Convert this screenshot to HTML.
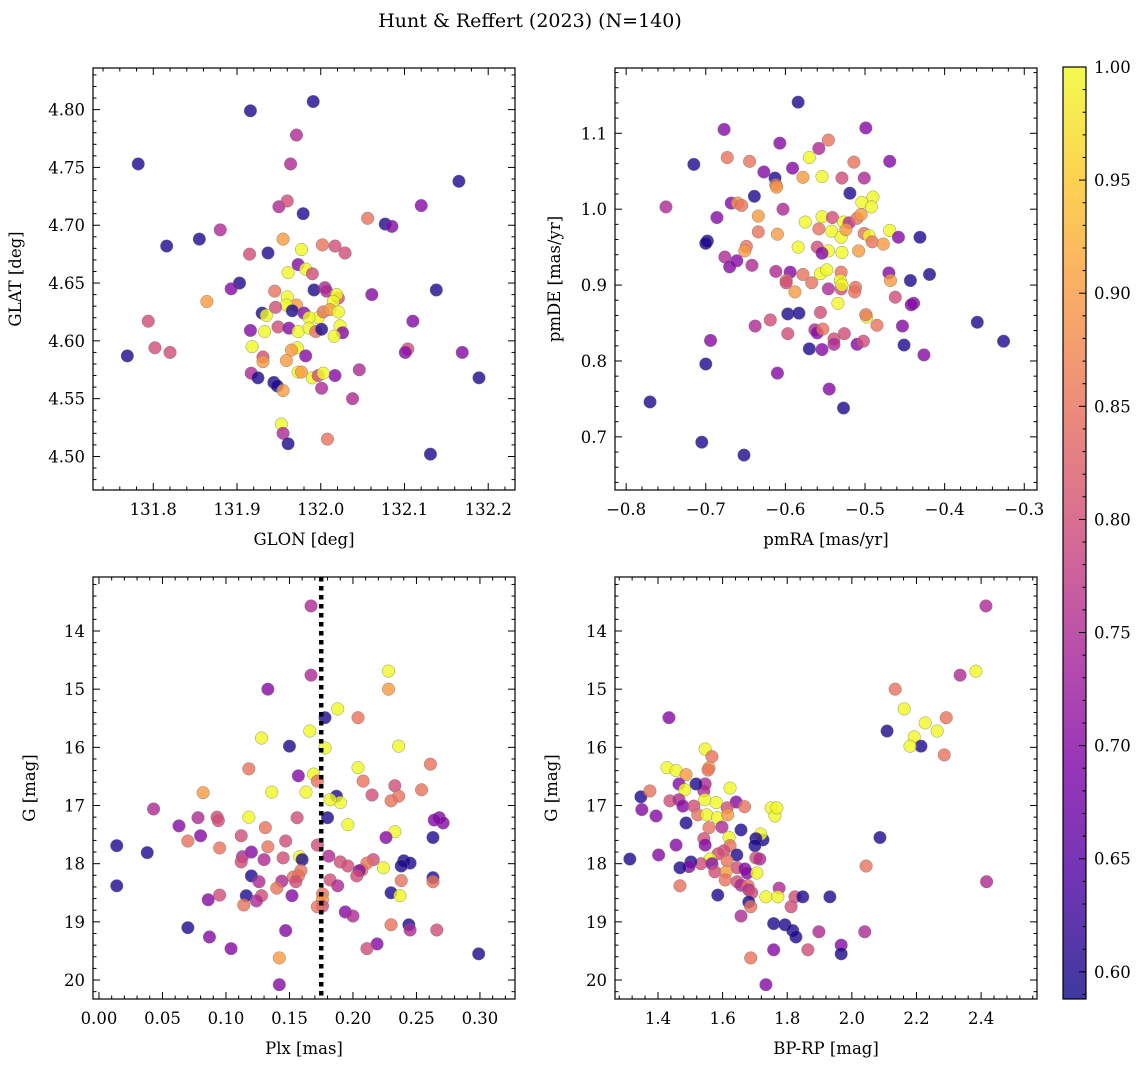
<!DOCTYPE html>
<html><head><meta charset="utf-8">
<style>
body{margin:0;background:#fff;}
svg{display:block;font-family:"DejaVu Serif","Liberation Serif",serif;}
</style></head>
<body>
<svg id="fig" width="1148" height="1067" viewBox="0 0 1148 1067" xmlns="http://www.w3.org/2000/svg">
<defs>
<linearGradient id="plasma" x1="0" y1="1" x2="0" y2="0">
<stop offset="0" stop-color="#0d0887"/><stop offset="0.125" stop-color="#4c02a1"/><stop offset="0.25" stop-color="#7e03a8"/><stop offset="0.375" stop-color="#a82296"/><stop offset="0.5" stop-color="#cc4778"/><stop offset="0.625" stop-color="#e66c5c"/><stop offset="0.75" stop-color="#f89540"/><stop offset="0.875" stop-color="#fdc527"/><stop offset="1" stop-color="#f0f921"/>
</linearGradient>
</defs>
<text x="530" y="27" font-size="19" text-anchor="middle">Hunt &amp; Reffert (2023) (N=140)</text>
</svg>
<script>
// ---- Panel 1: GLON vs GLAT ----
const glon=[131.782,131.916,131.991,131.971,131.964,132.165,132.120,131.979,131.950,131.960,131.880,131.816,131.855,132.056,132.077,132.085,131.915,131.937,131.955,132.002,132.017,132.029,131.977,131.973,131.982,131.990,131.961,131.864,131.903,131.893,132.138,132.061,131.992,131.960,131.971,132.005,132.007,132.021,132.019,132.015,131.945,131.959,131.930,131.935,131.946,131.966,131.980,131.997,131.986,132.003,132.011,132.021,132.023,132.026,132.110,131.916,131.933,131.949,131.962,131.973,131.986,131.994,132.001,132.016,131.769,131.794,131.802,131.820,131.918,131.972,131.965,132.104,132.101,132.169,131.931,131.931,131.982,131.959,131.917,131.925,131.973,131.977,131.990,132.017,132.046,131.997,132.003,132.189,131.944,131.948,131.955,132.001,132.038,131.953,131.955,131.961,132.008,132.131];
const glat=[4.753,4.799,4.807,4.778,4.753,4.738,4.717,4.710,4.716,4.721,4.696,4.682,4.688,4.706,4.701,4.699,4.675,4.676,4.688,4.683,4.682,4.676,4.679,4.666,4.662,4.658,4.659,4.634,4.650,4.645,4.644,4.640,4.644,4.638,4.631,4.646,4.643,4.637,4.640,4.634,4.643,4.631,4.624,4.622,4.629,4.626,4.624,4.620,4.620,4.625,4.627,4.625,4.613,4.607,4.617,4.609,4.608,4.612,4.611,4.608,4.611,4.608,4.610,4.604,4.587,4.617,4.594,4.590,4.595,4.594,4.592,4.593,4.590,4.590,4.586,4.582,4.587,4.583,4.572,4.568,4.573,4.573,4.568,4.570,4.575,4.570,4.572,4.568,4.564,4.561,4.557,4.559,4.550,4.528,4.520,4.511,4.515,4.502];
const prob1=[0.6,0.6,0.6,0.75,0.75,0.6,0.7,0.6,0.75,0.8,0.75,0.6,0.6,0.85,0.6,0.7,0.8,0.6,0.9,0.85,0.8,0.8,1.0,0.7,1.0,0.8,1.0,0.9,0.6,0.7,0.6,0.7,0.6,1.0,0.9,0.75,0.75,0.8,1.0,1.0,0.85,1.0,0.6,1.0,0.8,0.6,0.7,1.0,1.0,0.85,0.9,1.0,1.0,0.7,0.7,0.7,1.0,0.8,0.7,1.0,1.0,0.85,0.6,1.0,0.6,0.8,0.8,0.8,1.0,1.0,0.9,0.8,0.7,0.7,0.8,0.9,0.7,0.9,0.75,0.6,1.0,0.9,1.0,0.7,0.75,0.8,1.0,0.6,0.6,0.6,0.9,0.75,0.75,1.0,0.75,0.6,0.85,0.6];
const ticks1x=["131.8","131.9","132.0","132.1","132.2"];
const ticks1y=["4.50","4.55","4.60","4.65","4.70","4.75","4.80"];

// ---- Panel 2: pmRA vs pmDE ----
const pmra=[-0.584,-0.677,-0.499,-0.715,-0.607,-0.546,-0.558,-0.570,-0.673,-0.645,-0.469,-0.514,-0.627,-0.613,-0.591,-0.554,-0.578,-0.750,-0.668,-0.660,-0.655,-0.612,-0.639,-0.501,-0.611,-0.529,-0.519,-0.490,-0.504,-0.686,-0.634,-0.603,-0.554,-0.541,-0.527,-0.520,-0.510,-0.505,-0.492,-0.575,-0.698,-0.700,-0.634,-0.610,-0.558,-0.542,-0.530,-0.524,-0.501,-0.495,-0.491,-0.469,-0.458,-0.431,-0.649,-0.651,-0.584,-0.560,-0.546,-0.554,-0.529,-0.508,-0.477,-0.676,-0.661,-0.642,-0.670,-0.612,-0.594,-0.578,-0.556,-0.548,-0.530,-0.470,-0.419,-0.599,-0.599,-0.567,-0.531,-0.468,-0.443,-0.588,-0.546,-0.530,-0.529,-0.512,-0.513,-0.462,-0.439,-0.442,-0.534,-0.498,-0.499,-0.597,-0.583,-0.556,-0.485,-0.453,-0.359,-0.619,-0.638,-0.563,-0.560,-0.553,-0.526,-0.597,-0.694,-0.539,-0.539,-0.510,-0.451,-0.502,-0.326,-0.554,-0.570,-0.426,-0.700,-0.610,-0.545,-0.770,-0.527,-0.705,-0.652];
const pmde=[1.141,1.105,1.107,1.059,1.087,1.091,1.080,1.068,1.068,1.063,1.063,1.062,1.049,1.041,1.054,1.043,1.042,1.003,1.008,1.008,1.005,1.032,1.017,1.041,1.029,1.041,1.021,1.016,1.009,0.989,0.991,1.000,0.990,0.989,0.983,0.982,0.988,0.993,1.003,0.983,0.958,0.955,0.970,0.967,0.974,0.971,0.963,0.973,0.968,0.965,0.957,0.972,0.963,0.963,0.951,0.945,0.950,0.950,0.945,0.942,0.943,0.945,0.954,0.937,0.932,0.926,0.924,0.918,0.917,0.914,0.915,0.920,0.917,0.916,0.914,0.906,0.903,0.903,0.906,0.906,0.906,0.891,0.895,0.895,0.900,0.897,0.891,0.884,0.876,0.874,0.876,0.858,0.861,0.862,0.863,0.864,0.847,0.846,0.851,0.854,0.846,0.841,0.837,0.842,0.836,0.836,0.827,0.829,0.822,0.822,0.821,0.826,0.826,0.815,0.816,0.808,0.796,0.784,0.763,0.746,0.738,0.693,0.676];
const prob2=[0.6,0.7,0.7,0.6,0.7,0.85,0.75,1.0,0.85,0.85,0.7,0.85,0.7,0.6,0.7,1.0,0.9,0.75,0.7,0.9,0.85,0.85,0.6,0.75,0.9,0.8,0.6,1.0,1.0,0.7,0.9,0.75,1.0,0.8,1.0,0.75,0.85,0.9,1.0,1.0,0.6,0.6,0.85,0.9,0.85,1.0,1.0,0.9,0.85,1.0,0.85,1.0,0.7,0.6,0.85,0.9,1.0,0.8,1.0,0.7,1.0,0.9,0.9,0.75,0.7,0.75,0.7,0.75,0.7,0.85,1.0,1.0,0.85,0.7,0.6,0.85,0.8,0.85,1.0,0.9,0.6,0.9,0.75,0.8,1.0,0.85,0.85,0.8,0.7,0.7,1.0,1.0,0.85,0.6,0.6,0.8,0.85,0.7,0.6,0.8,0.75,0.75,0.7,0.85,0.8,0.8,0.7,0.8,0.75,0.7,0.6,0.8,0.6,0.7,0.6,0.7,0.6,0.7,0.7,0.6,0.6,0.6,0.6];
const ticks2x=["−0.8","−0.7","−0.6","−0.5","−0.4","−0.3"];
const ticks2y=["0.7","0.8","0.9","1.0","1.1"];

// ---- Panel 3: Plx vs G ----
const plx=[0.167,0.167,0.228,0.228,0.133,0.188,0.204,0.178,0.166,0.128,0.150,0.236,0.178,0.261,0.118,0.204,0.157,0.169,0.172,0.208,0.233,0.082,0.136,0.163,0.254,0.236,0.215,0.187,0.230,0.190,0.182,0.043,0.093,0.118,0.078,0.156,0.180,0.268,0.271,0.264,0.094,0.063,0.196,0.131,0.233,0.226,0.112,0.080,0.263,0.014,0.070,0.147,0.172,0.133,0.120,0.095,0.038,0.158,0.181,0.113,0.130,0.216,0.145,0.160,0.190,0.211,0.240,0.112,0.245,0.196,0.238,0.207,0.205,0.203,0.224,0.159,0.153,0.157,0.120,0.126,0.144,0.155,0.182,0.263,0.014,0.238,0.263,0.188,0.140,0.176,0.095,0.116,0.128,0.152,0.230,0.237,0.176,0.086,0.124,0.114,0.176,0.194,0.200,0.172,0.230,0.244,0.245,0.266,0.070,0.147,0.087,0.219,0.104,0.211,0.299,0.142,0.142];
const gmag3=[13.57,14.76,14.69,15.00,15.00,15.34,15.49,15.49,15.72,15.84,15.98,15.98,16.01,16.29,16.37,16.35,16.49,16.46,16.58,16.58,16.66,16.78,16.77,16.77,16.73,16.84,16.82,16.84,16.92,16.95,16.90,17.06,17.20,17.20,17.21,17.21,17.21,17.21,17.30,17.25,17.26,17.35,17.33,17.38,17.45,17.55,17.52,17.52,17.55,17.69,17.61,17.61,17.68,17.71,17.80,17.73,17.81,17.88,17.87,17.88,17.93,17.93,17.90,17.93,17.97,17.99,17.95,17.97,17.99,18.04,18.04,18.11,18.12,18.21,18.07,18.12,18.23,18.21,18.21,18.31,18.30,18.31,18.28,18.24,18.38,18.29,18.31,18.38,18.42,18.52,18.54,18.55,18.55,18.55,18.50,18.55,18.62,18.62,18.64,18.71,18.73,18.83,18.90,18.74,19.05,19.05,19.14,19.14,19.10,19.15,19.26,19.38,19.46,19.46,19.55,19.62,20.08];
const prob3=[0.75,0.75,1.0,0.9,0.7,1.0,0.85,0.6,1.0,1.0,0.6,1.0,1.0,0.85,0.85,1.0,0.7,1.0,0.85,0.85,0.8,0.9,1.0,1.0,0.85,0.85,0.8,0.6,0.85,1.0,1.0,0.75,0.8,1.0,0.75,0.8,0.6,0.7,0.7,0.7,0.8,0.7,1.0,0.85,1.0,0.7,0.8,0.7,0.6,0.6,0.85,0.8,0.8,0.85,0.7,0.85,0.6,1.0,0.75,0.75,0.75,0.8,0.8,0.6,0.8,0.85,0.6,0.8,0.6,0.8,0.6,0.85,0.7,0.8,1.0,0.85,0.85,0.85,0.6,0.75,0.75,0.8,0.8,0.6,0.6,0.85,0.85,0.75,0.85,0.85,0.8,0.6,0.8,0.7,0.6,1.0,0.9,0.7,0.75,0.85,0.8,0.7,0.75,0.85,0.85,0.6,0.75,0.8,0.6,0.7,0.7,0.7,0.7,0.8,0.6,0.9,0.7];
const plxLine=[0.175];
const ticks3x=["0.00","0.05","0.10","0.15","0.20","0.25","0.30"];
const ticks3y=["14","15","16","17","18","19","20"];

// ---- Panel 4: BP-RP vs G ----
const bprp=[2.415,2.384,2.335,2.134,1.434,2.162,2.292,2.227,2.264,2.109,2.193,2.214,2.180,2.286,1.546,1.567,1.558,1.428,1.456,1.487,1.555,1.546,1.542,1.465,1.483,1.518,1.623,1.347,1.375,1.437,1.465,1.477,1.545,1.511,1.580,1.642,1.614,1.668,1.750,1.350,1.394,1.523,1.551,1.584,1.616,1.762,1.768,1.487,1.657,1.558,1.598,1.725,1.620,1.718,1.703,1.542,1.456,2.087,1.546,1.623,1.700,1.604,1.586,1.644,1.402,1.313,1.561,1.533,1.502,1.567,1.614,1.703,1.715,1.496,1.468,1.645,1.576,1.611,2.044,1.669,1.676,1.706,1.608,1.645,1.657,1.679,1.468,2.417,1.775,1.585,1.681,1.690,1.734,1.771,1.824,1.848,1.932,1.681,1.687,1.812,1.657,1.758,1.793,1.817,1.898,2.040,1.827,1.758,1.864,1.967,1.967,1.687,1.734];
const gmag4=[13.57,14.69,14.76,15.00,15.49,15.34,15.49,15.58,15.72,15.72,15.82,15.98,15.98,16.13,16.03,16.16,16.35,16.35,16.40,16.47,16.39,16.63,16.75,16.63,16.73,16.63,16.70,16.85,16.75,16.92,16.90,17.01,16.90,17.01,16.95,16.94,17.04,17.02,17.04,17.07,17.18,17.16,17.16,17.21,17.16,17.18,17.04,17.30,17.42,17.38,17.37,17.59,17.55,17.49,17.57,17.57,17.68,17.55,17.68,17.69,17.69,17.78,17.83,17.85,17.85,17.92,17.92,18.00,17.97,18.00,17.95,17.90,17.92,18.05,18.07,18.07,18.14,18.14,18.04,18.09,18.16,18.16,18.28,18.31,18.37,18.38,18.38,18.31,18.42,18.54,18.45,18.50,18.57,18.57,18.57,18.57,18.57,18.66,18.74,18.74,18.90,19.03,19.05,19.15,19.17,19.17,19.26,19.48,19.48,19.40,19.55,19.62,20.08];
const prob4=[0.75,1.0,0.75,0.85,0.7,1.0,0.85,1.0,1.0,0.6,1.0,0.6,1.0,0.85,1.0,0.85,0.9,1.0,1.0,0.9,0.85,0.75,0.75,0.7,1.0,0.6,1.0,0.6,0.85,0.8,0.75,0.7,1.0,0.8,1.0,0.7,0.8,0.85,1.0,0.7,0.7,0.85,1.0,1.0,0.9,1.0,1.0,0.6,0.6,0.85,0.75,0.6,1.0,1.0,0.6,0.8,0.7,0.6,0.7,0.85,0.6,0.8,0.8,0.6,0.7,0.6,1.0,0.8,0.6,0.7,0.85,0.8,0.75,0.7,0.6,0.8,0.8,0.9,0.85,0.7,0.7,1.0,0.85,0.8,0.75,0.85,0.85,0.75,0.75,0.6,0.75,0.8,1.0,1.0,0.8,0.6,0.6,0.6,0.85,0.8,0.75,0.6,0.6,0.6,0.75,0.75,0.6,0.7,0.8,0.7,0.6,0.85,0.7];
const ticks4x=["1.4","1.6","1.8","2.0","2.2","2.4"];
const ticks4y=["14","15","16","17","18","19","20"];

// ---- Colorbar ----
const cbarTicks=["0.60","0.65","0.70","0.75","0.80","0.85","0.90","0.95","1.00"];
const cmin=0.588, cmax=1.0;

const NS="http://www.w3.org/2000/svg";
const svg=document.getElementById('fig');
const stops=[[13,8,135],[76,2,161],[126,3,168],[168,34,150],[204,71,120],[230,108,92],[248,149,64],[253,197,39],[240,249,33]];
function cmap(v){let t=(v-cmin)/(cmax-cmin);t=Math.max(0,Math.min(1,t));const s=t*8,i=Math.min(7,Math.floor(s)),f=s-i;const a=stops[i],b=stops[i+1];return 'rgb('+[0,1,2].map(k=>Math.round(a[k]+(b[k]-a[k])*f)).join(',')+')';}
function mk(tag,attrs,parent){const e=document.createElementNS(NS,tag);for(const k in attrs)e.setAttribute(k,attrs[k]);(parent||svg).appendChild(e);return e;}

function panel(o){
  const g=mk('g',{});
  
  
  const sx=v=>o.L+(v-o.x0)/(o.x1-o.x0)*(o.R-o.L);
  const sy=v=>o.B-(v-o.y0)/(o.y1-o.y0)*(o.B-o.T);
  // points
  const pg=mk('g',{},g);
  
  
  for(let i=0;i<o.xs.length;i++){
    const c=mk('circle',{cx:sx(o.xs[i]),cy:sy(o.ys[i]),r:6.3,fill:cmap(o.cs[i]),'fill-opacity':0.8,stroke:'#777','stroke-width':0.5,'stroke-opacity':0.8},pg);
    
    
  }
  if(o.vline){for(const v of o.vline){const l=mk('line',{x1:sx(v),x2:sx(v),y1:o.T,y2:o.B,stroke:'#000','stroke-width':4.5,'stroke-dasharray':'4.5,4.5'},g);
    
    }}
  const fr=mk('rect',{x:o.L,y:o.T,width:o.R-o.L,height:o.B-o.T,fill:'none',stroke:'#000','stroke-width':1.2},g);
  
  
  // ticks
  const tg=mk('g',{stroke:'#000','stroke-width':1},g);
  
  
  const lo=Math.min(o.x0,o.x1),hi=Math.max(o.x0,o.x1);
  for(let k=Math.ceil(lo/o.xmin-1e-6);k*o.xmin<=hi+1e-9;k++){const v=k*o.xmin,X=sx(v);const maj=Math.abs(v/o.xmaj-Math.round(v/o.xmaj))<1e-6;const len=maj?7:3.5;
    mk('line',{x1:X,x2:X,y1:o.B,y2:o.B-len},tg);mk('line',{x1:X,x2:X,y1:o.T,y2:o.T+len},tg);}
  const ylo=Math.min(o.y0,o.y1),yhi=Math.max(o.y0,o.y1);
  for(let k=Math.ceil(ylo/o.ymin-1e-6);k*o.ymin<=yhi+1e-9;k++){const v=k*o.ymin,Y=sy(v);const maj=Math.abs(v/o.ymaj-Math.round(v/o.ymaj))<1e-6;const len=maj?7:3.5;
    mk('line',{x1:o.L,x2:o.L+len,y1:Y,y2:Y},tg);mk('line',{x1:o.R,x2:o.R-len,y1:Y,y2:Y},tg);}
  // tick labels
  o.tx.forEach(s=>{const v=parseFloat(s.replace('−','-'));const t=mk('text',{x:sx(v),y:o.B+25,'font-size':16.5,'text-anchor':'middle'},g);t.textContent=s;
    
    });
  o.ty.forEach(s=>{const v=parseFloat(s);const t=mk('text',{x:o.L-8,y:sy(v)+6,'font-size':16.5,'text-anchor':'end'},g);t.textContent=s;
    
    });
  const xl=mk('text',{x:(o.L+o.R)/2,y:o.B+55,'font-size':16.5,'text-anchor':'middle'},g);xl.textContent=o.xlab;
  
  
  const yx=o.L-o.ylabOff,yy=(o.T+o.B)/2;
  const yl=mk('text',{x:yx,y:yy,'font-size':16.5,'text-anchor':'middle',transform:'rotate(-90 '+yx+' '+yy+')'},g);yl.textContent=o.ylab;
  
  
}

panel({name:'glon-glat-panel',L:93,R:515,T:68,B:490,x0:131.728,x1:132.232,y0:4.471,y1:4.836,xs:glon,ys:glat,cs:prob1,xmaj:0.1,xmin:0.02,ymaj:0.05,ymin:0.01,tx:ticks1x,ty:ticks1y,xlab:'GLON [deg]',ylab:'GLAT [deg]',ylabOff:72});
panel({name:'proper-motion-panel',L:615,R:1037,T:68,B:490,x0:-0.814,x1:-0.284,y0:0.630,y1:1.186,xs:pmra,ys:pmde,cs:prob2,xmaj:0.1,xmin:0.02,ymaj:0.1,ymin:0.02,tx:ticks2x,ty:ticks2y,xlab:'pmRA [mas/yr]',ylab:'pmDE [mas/yr]',ylabOff:55});
panel({name:'parallax-g-panel',L:93,R:515,T:577,B:999,x0:-0.0047,x1:0.3276,y0:20.326,y1:13.072,xs:plx,ys:gmag3,cs:prob3,vline:plxLine,xmaj:0.05,xmin:0.01,ymaj:1,ymin:0.2,tx:ticks3x,ty:ticks3y,xlab:'Plx [mas]',ylab:'G [mag]',ylabOff:58});
panel({name:'cmd-panel',L:615,R:1037,T:577,B:999,x0:1.267,x1:2.573,y0:20.326,y1:13.072,xs:bprp,ys:gmag4,cs:prob4,xmaj:0.2,xmin:0.04,ymaj:1,ymin:0.2,tx:ticks4x,ty:ticks4y,xlab:'BP-RP [mag]',ylab:'G [mag]',ylabOff:58});

// colorbar
(function(){
  const L=1063,R=1086,T=67,B=999;
  const g=mk('g',{});
  
  
  mk('rect',{x:L,y:T,width:R-L,height:B-T,fill:'url(#plasma)','fill-opacity':0.8},g);
  mk('rect',{x:L,y:T,width:R-L,height:B-T,fill:'none',stroke:'#000','stroke-width':1.2},g);
  const sy=v=>B-(v-cmin)/(cmax-cmin)*(B-T);
  for(let k=59;k<=100;k++){const v=k/100,Y=sy(v);const maj=k%5===0;mk('line',{x1:R,x2:R-(maj?7:3.5),y1:Y,y2:Y,stroke:'#000','stroke-width':1},g);}
  cbarTicks.forEach(s=>{const t=mk('text',{x:R+8,y:sy(parseFloat(s))+6,'font-size':16.5},g);t.textContent=s;
    
    });
})();
</script>
</body></html>
